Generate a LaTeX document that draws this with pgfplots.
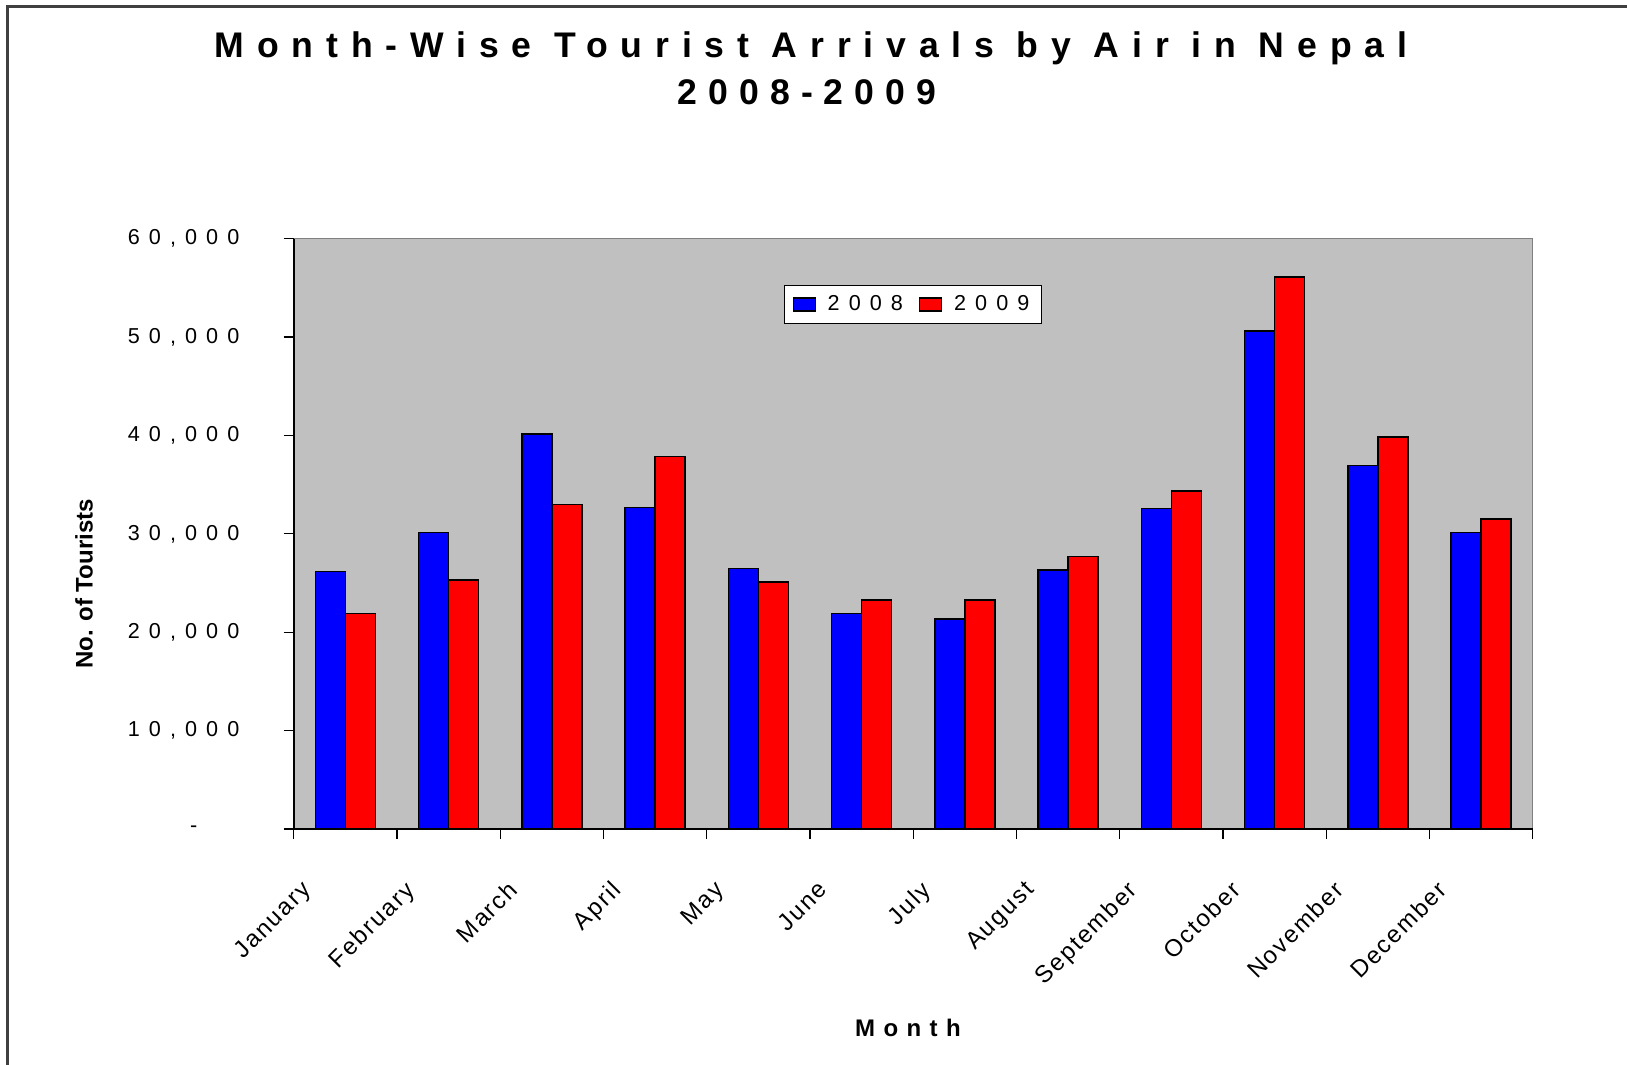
\documentclass[border=0pt]{standalone}
\usepackage{fontspec}
\setmainfont{Liberation Sans}
\newfontfamily\ticksp[LetterSpace=42]{Liberation Sans}
\newfontfamily\titlesp[LetterSpace=36]{Liberation Sans}
\newfontfamily\titlespb[LetterSpace=31]{Liberation Sans}
\newfontfamily\labsp[LetterSpace=35]{Liberation Sans}
\newfontfamily\monthsp[LetterSpace=8]{Liberation Sans}
\usepackage{pgfplots}
\pgfplotsset{compat=1.18}
\definecolor{bgray}{RGB}{192,192,192}
\definecolor{framec}{RGB}{64,64,64}
\definecolor{pgray}{RGB}{128,128,128}
\begin{document}
\begin{tikzpicture}
\useasboundingbox (0,0) rectangle (813.5bp,-532.5bp);
\fill[white] (0,0) rectangle (813.5bp,-532.5bp);
\draw[framec, line width=1.2bp] (3.75bp,-540bp) -- (3.75bp,-3.25bp) -- (820bp,-3.25bp);
\node[font=\titlesp\bfseries\fontsize{17.8bp}{20bp}\selectfont, anchor=base, inner sep=0pt] at (405.5bp,-28.65bp) {Month-Wise Tourist Arrivals by Air in Nepal};
\node[font=\titlespb\bfseries\fontsize{17.8bp}{20bp}\selectfont, anchor=base, inner sep=0pt] at (403.5bp,-52.4bp) {2008-2009};
\node[font=\bfseries\fontsize{12bp}{14bp}\selectfont, rotate=90, inner sep=0pt] at (42bp,-292bp) {No. of Tourists};
\node[font=\labsp\bfseries\fontsize{12bp}{14bp}\selectfont, inner sep=0pt] at (454bp,-514bp) {Month};
\begin{axis}[
  at={(146.85bp,-414.5bp)}, anchor=south west,
  scale only axis, width=619.5bp, height=295.15bp,
  ybar=0pt, bar width=15bp,
  xmin=-0.5, xmax=11.5, ymin=0, ymax=60000,
  scaled y ticks=false,
  axis background/.style={fill=bgray, draw=pgray, line width=0.7bp},
  axis x line*=bottom, axis y line*=left,
  axis line style={black, line width=0.8bp},
  tick align=outside,
  major tick length=5bp,
  tick style={black, line width=0.6bp},
  xtick={-0.5,0.5,...,11.5}, xticklabels={},
  extra x ticks={0,1,2,3,4,5,6,7,8,9,10,11},
  extra x tick labels={January,February,March,April,May,June,July,August,September,October,November,December},
  extra x tick style={tick style={draw=none}, xticklabel style={font=\monthsp\fontsize{12bp}{14bp}\selectfont, inner sep=0pt, anchor=north east, xshift=-22.5bp, yshift=-20bp, rotate=45}},
  ytick={0,10000,20000,30000,40000,50000,60000},
  yticklabels={-\hspace*{21bp},{10,000},{20,000},{30,000},{40,000},{50,000},{60,000}},
  yticklabel style={font=\ticksp\fontsize{10.8bp}{12bp}\selectfont, anchor=east, inner sep=0pt, xshift=-22bp},
  legend style={at={(0.4998,0.8885)}, anchor=center, draw=black, fill=white, line width=0.5bp,
    font=\ticksp\fontsize{10.8bp}{12bp}\selectfont, inner xsep=4bp, inner ysep=3bp,
    /tikz/every odd column/.append style={column sep=4bp},
    /tikz/every even column/.append style={column sep=6bp}},
  legend columns=2,
  legend image code/.code={\draw[#1, line width=0.6bp] (0bp,-3.25bp) rectangle (11bp,3.25bp);},
]
\addplot[fill=blue, draw=black, line width=0.8bp] coordinates {
(0,26190) (1,30150) (2,40140) (3,32690) (4,26470) (5,21900)
(6,21320) (7,26330) (8,32560) (9,50630) (10,36950) (11,30150)};
\addplot[fill=red, draw=black, line width=0.8bp] coordinates {
(0,21900) (1,25280) (2,33000) (3,37870) (4,25110) (5,23290)
(6,23290) (7,27690) (8,34350) (9,56080) (10,39840) (11,31510)};
\legend{2008,2009}
\end{axis}
\end{tikzpicture}
\end{document}
